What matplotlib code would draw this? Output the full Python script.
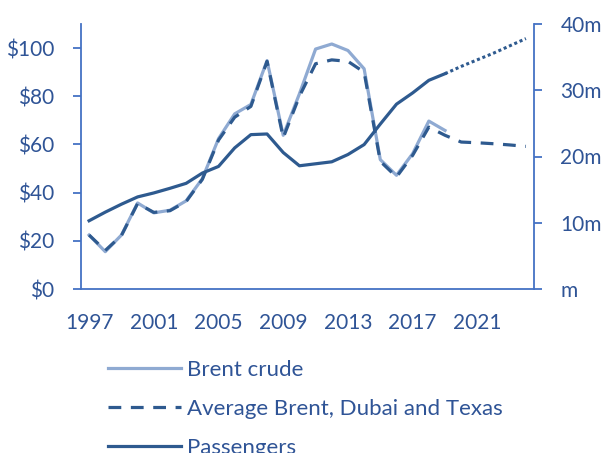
import matplotlib
matplotlib.use("Agg")
import matplotlib.pyplot as plt
from matplotlib.ticker import FuncFormatter

plt.rcParams['font.family'] = ['Lato', 'DejaVu Sans']
plt.rcParams['font.size'] = 15

# data
years = list(range(1997, 2025))
brent_years = list(range(1997, 2020))
brent = [22.4, 15.5, 22.4, 35.7, 31.6, 32.7, 36.6, 45.8, 62.4, 72.7, 76.6, 94.8,
         63.8, 81.0, 99.6, 101.7, 99.0, 91.4, 53.7, 47.2, 56.2, 69.7, 65.8]
avg_price = [22.4, 16.0, 22.2, 35.5, 31.8, 32.5, 36.3, 45.5, 61.8, 71.3, 75.8, 94.5,
             62.8, 80.0, 93.5, 95.1, 94.5, 90.0, 53.0, 46.5, 55.5, 67.2, 63.8,
             61.0, 60.7, 60.3, 59.8, 59.2]
pass_years = list(range(1997, 2020))
passengers = [10.3, 11.6, 12.8, 13.9, 14.5, 15.2, 15.95, 17.5, 18.5, 21.3, 23.3, 23.4,
              20.6, 18.6, 18.9, 19.2, 20.3, 21.8, 24.9, 27.9, 29.6, 31.5, 32.5]
fc_years = list(range(2019, 2025))
pass_forecast = [32.5, 33.6, 34.6, 35.6, 36.7, 37.8]

light = '#8FAAD2'
dark = '#2E5A8F'
spine_c = '#4472C4'
text_c = '#2F5496'

fig = plt.figure(figsize=(6.03, 4.53), dpi=100)
ax = fig.add_axes([81/603, 1-289/453, (534-81)/603, (289-24)/453])
ax2 = ax.twinx()

l1, = ax.plot(brent_years, brent, color=light, lw=2.3, label='Brent crude', zorder=2)
l2, = ax.plot(years, avg_price, color=dark, lw=2.3, dashes=(4, 3),
              label='Average Brent, Dubai and Texas', zorder=3)
l3, = ax2.plot(pass_years, passengers, color=dark, lw=2.3, label='Passengers')
ax2.plot(fc_years, pass_forecast, color=dark, lw=2.2, linestyle=(0, (1, 0.9)))

ax.set_xlim(1996.5, 2024.5)
ax.set_ylim(0, 110)
ax2.set_ylim(0, 40)
ax.set_yticks([0, 20, 40, 60, 80, 100])
ax2.set_yticks([0, 10, 20, 30, 40])
ax.set_xticks(list(range(1997, 2025, 4)))
ax.yaxis.set_major_formatter(FuncFormatter(lambda v, p: '$%d' % v))
ax2.yaxis.set_major_formatter(FuncFormatter(lambda v, p: 'm' if v == 0 else '%dm' % v))

for a in (ax, ax2):
    for s in a.spines.values():
        s.set_color(spine_c)
        s.set_linewidth(1.3)
    a.spines['top'].set_visible(False)
ax.spines['right'].set_visible(False)
ax2.spines['left'].set_visible(False)
ax2.spines['bottom'].set_visible(False)

ax.tick_params(axis='y', colors=spine_c, labelcolor=text_c, length=6, width=1.3,
               pad=13, labelsize=15)
ax2.tick_params(axis='y', colors=spine_c, labelcolor=text_c, length=6, width=1.3,
                pad=13, labelsize=15)
ax.tick_params(axis='x', length=0, pad=17, labelcolor=text_c, labelsize=15)

fig.legend(handles=[l1, l2, l3], loc='upper left', bbox_to_anchor=(108/603, 1-360/453),
           frameon=False, borderpad=0, borderaxespad=0, handlelength=3.3,
           handletextpad=0.25, labelspacing=0.85, labelcolor=text_c, fontsize=16)

fig.savefig('out.png', dpi=100)
